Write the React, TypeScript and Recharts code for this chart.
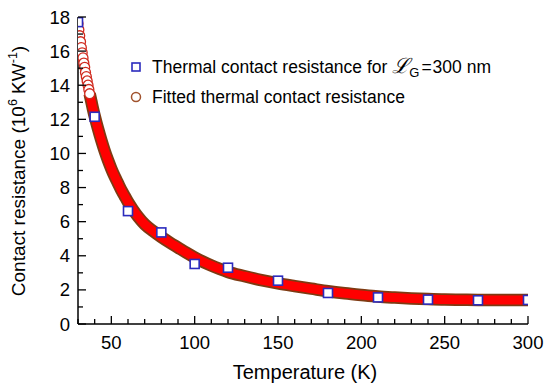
import { ComposedChart, Line, Scatter, XAxis, YAxis, Customized } from 'recharts';

// measured points (squares)
const measT = [30, 40, 60, 80, 100, 120, 150, 180, 210, 240, 270, 300];
const measR = [17.7, 12.15, 6.62, 5.37, 3.52, 3.3, 2.54, 1.82, 1.56, 1.43, 1.39, 1.41];

// fitted curve
const fitT = [30, 30.5, 31, 31.5, 32, 32.5, 33, 33.5, 34, 34.5, 35, 35.5, 36, 36.5, 37, 38, 39, 40, 42, 44, 46, 48, 50, 52, 54, 56, 58, 60, 63, 66, 70, 75, 80, 85, 90, 95, 100, 105, 110, 115, 120, 130, 140, 150, 160, 170, 180, 190, 200, 210, 220, 230, 240, 250, 260, 270, 280, 290, 300];
const fitR = [17.6, 17.25, 16.9, 16.55, 16.2, 15.9, 15.6, 15.3, 15.05, 14.75, 14.5, 14.25, 14.0, 13.75, 13.5, 13.05, 12.6, 12.2, 11.45, 10.77, 10.15, 9.6, 9.1, 8.65, 8.25, 7.85, 7.5, 7.15, 6.7, 6.3, 5.85, 5.45, 5.1, 4.78, 4.48, 4.18, 3.9, 3.65, 3.43, 3.23, 3.05, 2.8, 2.57, 2.38, 2.22, 2.07, 1.92, 1.8, 1.7, 1.61, 1.55, 1.5, 1.46, 1.43, 1.42, 1.41, 1.41, 1.41, 1.41];

const xTicks = [30, 40, 50, 60, 70, 80, 90, 100, 110, 120, 130, 140, 150, 160, 170, 180, 190, 200, 210, 220, 230, 240, 250, 260, 270, 280, 290, 300];
const yTicks = [0, 1, 2, 3, 4, 5, 6, 7, 8, 9, 10, 11, 12, 13, 14, 15, 16, 17, 18];

const measData = measT.map((t, i) => ({ t, r: measR[i] }));
const fitData = fitT.map((t, i) => ({ t, r: fitR[i] }));
const fitLine = fitData.filter(d => d.t >= 37);
const fitDots = fitData.filter(d => d.t <= 37);

const FONT = 'Liberation Sans, Arial, sans-serif';

const BottomTick = (p: any) => {
  const major = p.payload.value % 50 === 0;
  return (
    <g>
      <line x1={p.x} x2={p.x} y1={p.y} y2={p.y - (major ? 8 : 5)} stroke="#000" strokeWidth={1.3} />
      {major && (
        <text x={p.x} y={p.y + 25} textAnchor="middle" fontSize={18.5} fontFamily={FONT} fill="#000">
          {p.payload.value}
        </text>
      )}
    </g>
  );
};

const TopTick = (p: any) => {
  const major = p.payload.value % 50 === 0;
  return <line x1={p.x} x2={p.x} y1={p.y} y2={p.y + (major ? 8 : 5)} stroke="#000" strokeWidth={1.3} />;
};

const LeftTick = (p: any) => {
  const major = p.payload.value % 2 === 0;
  return (
    <g>
      <line x1={p.x} x2={p.x + (major ? 8 : 5)} y1={p.y} y2={p.y} stroke="#000" strokeWidth={1.3} />
      {major && (
        <text x={p.x - 8} y={p.y + 6.5} textAnchor="end" fontSize={18.5} fontFamily={FONT} fill="#000">
          {p.payload.value}
        </text>
      )}
    </g>
  );
};

const RightTick = (p: any) => {
  const major = p.payload.value % 2 === 0;
  return <line x1={p.x} x2={p.x - (major ? 8 : 5)} y1={p.y} y2={p.y} stroke="#000" strokeWidth={1.3} />;
};

const Square = (p: any) => (
  <rect x={p.cx - 4.5} y={p.cy - 4.5} width={9} height={9} fill="#fff" stroke="#2b2bbd" strokeWidth={1.6} />
);

const OpenCircle = (p: any) => (
  <circle cx={p.cx} cy={p.cy} r={5} fill="#fff" stroke="#d02a1e" strokeWidth={1.3} />
);

const Labels = () => (
  <g fontFamily={FONT} fill="#000">
    <text x={305} y={379} textAnchor="middle" fontSize={20}>Temperature (K)</text>
    <text transform="translate(25,171) rotate(-90)" textAnchor="middle" fontSize={19}>
      Contact resistance (10<tspan dy={-8} fontSize={12.5}>6</tspan>
      <tspan dy={8}> KW</tspan>
      <tspan dy={-8} fontSize={12.5}>-1</tspan>
      <tspan dy={8}>)</tspan>
    </text>
    <rect x={132} y={63} width={8} height={8} fill="#fff" stroke="#2b2bbd" strokeWidth={1.6} />
    <text x={152} y={73} fontSize={17.5}>
      Thermal contact resistance for{' '}
      <tspan fontFamily="DejaVu Serif, serif" fontStyle="italic" fontSize={21}>ℒ</tspan>
      <tspan dy={4} fontSize={13}>G</tspan>
      <tspan dy={-4} dx={2}>=</tspan>
      <tspan dx={1}>300 nm</tspan>
    </text>
    <circle cx={136} cy={97} r={4.5} fill="none" stroke="#a0522d" strokeWidth={1.5} />
    <text x={152} y={103} fontSize={17.5}>Fitted thermal contact resistance</text>
  </g>
);

export default function App() {
  return (
    <div style={{ position: 'absolute', left: 0, top: 0, background: '#fff' }}>
      <ComposedChart width={550} height={390} margin={{ top: 17, right: 22, bottom: 0, left: 0 }}>
        <XAxis xAxisId="b" dataKey="t" type="number" domain={[30, 300]} ticks={xTicks} allowDataOverflow
          height={66} tickSize={0} tickMargin={0} tick={<BottomTick />} interval={0} stroke="#000" strokeWidth={1.5} />
        <XAxis xAxisId="top" orientation="top" dataKey="t" type="number" domain={[30, 300]} ticks={xTicks} allowDataOverflow
          height={0} tickSize={0} tickMargin={0} tick={<TopTick />} interval={0} stroke="#000" strokeWidth={1.5} />
        <YAxis yAxisId="l" type="number" domain={[0, 18]} ticks={yTicks} allowDataOverflow
          width={78} tickSize={0} tickMargin={0} tick={<LeftTick />} interval={0} stroke="#000" strokeWidth={1.5} />
        <YAxis yAxisId="right" orientation="right" type="number" domain={[0, 18]} ticks={yTicks} allowDataOverflow
          width={0} tickSize={0} tickMargin={0} tick={<RightTick />} interval={0} stroke="#000" strokeWidth={1.5} />
        <Scatter xAxisId="b" yAxisId="l" data={fitDots} dataKey="r" shape={<OpenCircle />} isAnimationActive={false} />
        <Line xAxisId="b" yAxisId="l" data={fitLine} dataKey="r" type="monotone" stroke="#7e3a12" strokeWidth={12.5}
          dot={false} activeDot={false} isAnimationActive={false} />
        <Line xAxisId="b" yAxisId="l" data={fitLine} dataKey="r" type="monotone" stroke="#ff0000" strokeWidth={9}
          dot={false} activeDot={false} isAnimationActive={false} />
        <Scatter xAxisId="b" yAxisId="l" data={measData} dataKey="r" shape={<Square />} isAnimationActive={false} />
        <Customized component={Labels} />
      </ComposedChart>
    </div>
  );
}
